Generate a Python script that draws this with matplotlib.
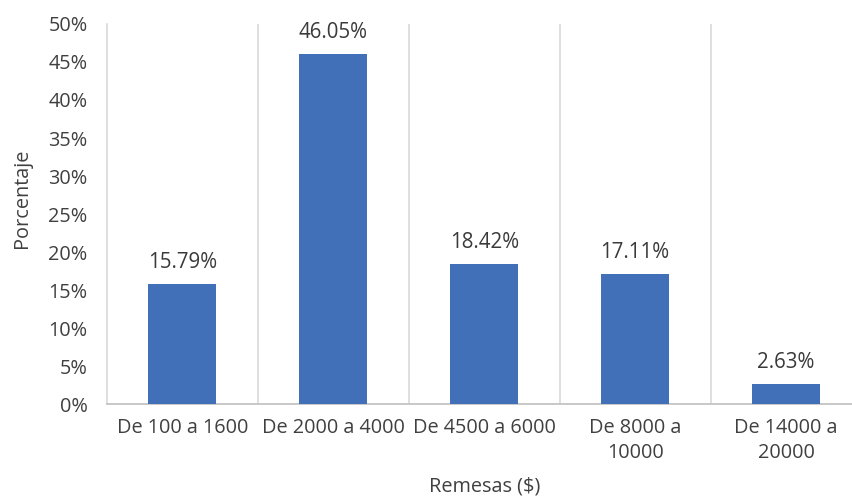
import matplotlib.pyplot as plt
from matplotlib.ticker import FuncFormatter, MultipleLocator

categories = ["De 100 a 1600", "De 2000 a 4000", "De 4500 a 6000",
              "De 8000 a\n10000", "De 14000 a\n20000"]
values = [15.79, 46.05, 18.42, 17.11, 2.63]

plt.rcParams['font.family'] = ['Open Sans', 'DejaVu Sans']
text_color = '#404040'
bar_color = '#4170B9'
grid_color = '#D9D9D9'

fig = plt.figure(figsize=(8.53, 4.98), dpi=100)
W, H = 853, 498
left, right, top, bottom = 107, 861.5, 24, 404
ax = fig.add_axes([left / W, 1 - bottom / H, (right - left) / W, (bottom - top) / H])

x = list(range(len(categories)))
ax.bar(x, values, width=0.45, color=bar_color, zorder=3)

ax.set_xlim(-0.5, len(categories) - 0.5)
ax.set_ylim(0, 50)
ax.yaxis.set_major_locator(MultipleLocator(5))
ax.yaxis.set_major_formatter(FuncFormatter(lambda v, p: f"{v:.0f}%"))

# category separators
for b in [i + 0.5 for i in range(len(categories) - 1)]:
    ax.axvline(b, color=grid_color, lw=1.2, zorder=1)

for s in ['top', 'right']:
    ax.spines[s].set_visible(False)
ax.spines['left'].set_color(grid_color)
ax.spines['left'].set_linewidth(1.2)
ax.spines['bottom'].set_color('#BFBFBF')
ax.spines['bottom'].set_linewidth(1.2)

ax.set_xticks(x)
ax.set_xticklabels(categories, fontsize=14.3, color=text_color, linespacing=1.35)
ax.tick_params(axis='x', length=0, pad=10)
ax.tick_params(axis='y', length=0, pad=14, labelsize=14.3, labelcolor=text_color)

for xi, v in zip(x, values):
    ax.annotate(f"{v:.2f}%", (xi, v), xytext=(0, 8), textcoords='offset points',
                ha='center', va='bottom', fontsize=14.8, fontweight=500,
                color='#3a3a3a')

fig.text(485 / W, 1 - 486 / H, "Remesas ($)", ha='center', va='center',
         fontsize=14.3, color=text_color)
fig.text(22 / W, 1 - 198 / H, "Porcentaje", ha='center', va='center',
         rotation=90, fontsize=14.3, color=text_color)

fig.savefig("out.png", dpi=100)
